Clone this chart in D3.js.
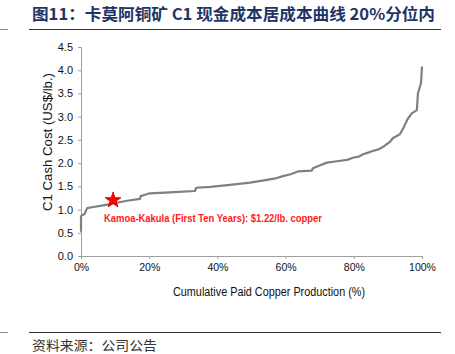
<!DOCTYPE html>
<html><head><meta charset="utf-8">
<script src="https://cdn.jsdelivr.net/npm/d3@7"></script>
<style>body{margin:0;background:#fff}svg{display:block}</style>
</head><body>
<script>
const titleText = "图11：卡莫阿铜矿 C1 现金成本居成本曲线 20%分位内";
const sourceText = "资料来源：公司公告";
const yTicks = [0, 0.5, 1.0, 1.5, 2.0, 2.5, 3.0, 3.5, 4.0, 4.5];
const xTicks = [0, 20, 40, 60, 80, 100];
const pct  = [0, 0, 0.3, 1.0, 1.3, 1.8, 4, 6.5, 9.4, 13.5, 17.3, 17.5, 20.2, 26, 33.4, 33.8, 38, 43.7, 49.6, 54.5, 57, 59.2, 61.5, 63.6, 67.7, 68, 70, 72.1, 75, 78, 80, 81.5, 82.7, 84, 85.5, 87, 88.4, 89.5, 90.5, 91.5, 92.5, 93.5, 94.5, 95.8, 97, 98.5, 98.8, 99.7, 100];
const cost = [0.52, 0.85, 0.88, 0.9, 0.95, 1.03, 1.06, 1.09, 1.13, 1.19, 1.23, 1.29, 1.35, 1.37, 1.40, 1.47, 1.49, 1.53, 1.58, 1.64, 1.67, 1.72, 1.76, 1.82, 1.84, 1.89, 1.95, 2.01, 2.04, 2.07, 2.12, 2.14, 2.19, 2.22, 2.26, 2.29, 2.34, 2.40, 2.45, 2.54, 2.58, 2.62, 2.75, 2.95, 3.07, 3.14, 3.50, 3.72, 4.08];
const markerPct = 9.4, markerCost = 1.19;
const markerLabel = "Kamoa-Kakula (First Ten Years): $1.22/lb. copper";
const xTitle = "Cumulative Paid Copper Production (%)";
const yTitle = "C1 Cash Cost (US$/lb.)";

const W = 455, H = 354;
const svg = d3.select("body").append("svg").attr("width", W).attr("height", H);

// header / footer
svg.append("text").attr("x", 32).attr("y", 20)
  .attr("font-family", "'Noto Sans CJK SC', sans-serif").attr("font-weight", "bold")
  .attr("font-size", 16).attr("fill", "#1f3466")
  .attr("textLength", 403).attr("lengthAdjust", "spacingAndGlyphs").text(titleText);
[[0, 8, "#888"], [29, 441, "#333"]].forEach(([a, b, c]) => {
  svg.append("line").attr("x1", a).attr("x2", b).attr("y1", 29.5).attr("y2", 29.5).attr("stroke", c).attr("stroke-width", 1);
  svg.append("line").attr("x1", a).attr("x2", b).attr("y1", 332.5).attr("y2", 332.5).attr("stroke", c).attr("stroke-width", 1);
});
svg.append("text").attr("x", 32).attr("y", 350)
  .attr("font-family", "'Noto Sans CJK SC', sans-serif").attr("font-size", 13).attr("fill", "#333")
  .attr("textLength", 125).attr("lengthAdjust", "spacingAndGlyphs").text(sourceText);

const x = d3.scaleLinear().domain([0, 100]).range([81, 422]);
const y = d3.scaleLinear().domain([0, 4.5]).range([256, 47]);
const axisColor = "#a0a0a0";
const font = "'Liberation Sans', Arial, sans-serif";

const gx = svg.append("g").attr("transform", `translate(0,${y(0)})`)
  .call(d3.axisBottom(x).tickValues(xTicks).tickFormat(d => d + "%").tickSize(3).tickPadding(5));
const gy = svg.append("g").attr("transform", `translate(${x(0)},0)`)
  .call(d3.axisLeft(y).tickValues(yTicks).tickFormat(d3.format(".1f")).tickSize(3).tickPadding(5));
[gx, gy].forEach(g => {
  g.select(".domain").attr("stroke", axisColor);
  g.selectAll(".tick line").attr("stroke", axisColor);
  g.selectAll(".tick text").attr("font-family", font).attr("font-size", 11).attr("fill", "#111");
});
gx.selectAll(".tick text").attr("font-size", 10.5);

svg.append("text").attr("x", 269).attr("y", 296).attr("text-anchor", "middle")
  .attr("font-family", font).attr("font-size", 12).attr("fill", "#111")
  .attr("textLength", 192).attr("lengthAdjust", "spacingAndGlyphs").text(xTitle);
svg.append("text").attr("transform", "translate(52,142) rotate(-90)").attr("text-anchor", "middle")
  .attr("font-family", font).attr("font-size", 12).attr("fill", "#111")
  .attr("textLength", 138).attr("lengthAdjust", "spacingAndGlyphs").text(yTitle);

const pts = pct.map((p, i) => [p, cost[i]]);
svg.append("path").datum(pts)
  .attr("d", d3.line().x(d => x(d[0])).y(d => y(d[1])))
  .attr("fill", "none").attr("stroke", "#808080").attr("stroke-width", 2.2).attr("stroke-linejoin", "round");

svg.append("path").attr("d", d3.symbol(d3.symbolStar, 78)())
  .attr("transform", `translate(${x(markerPct)},${y(markerCost) - 0.5})`)
  .attr("fill", "#ff0000").attr("stroke", "#c00000").attr("stroke-width", 0.8);
svg.append("text").attr("x", 104).attr("y", 222)
  .attr("font-family", font).attr("font-weight", "bold").attr("font-size", 11).attr("fill", "#ff1a1a")
  .attr("textLength", 218).attr("lengthAdjust", "spacingAndGlyphs").text(markerLabel);
</script>
</body></html>
